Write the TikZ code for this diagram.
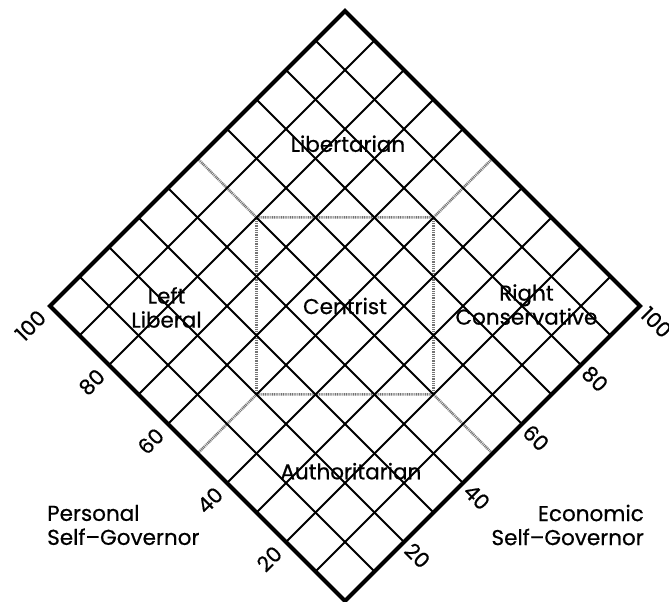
\documentclass[tikz,border=0pt]{standalone}
\usepackage{fontspec}
\setmainfont{Poppins}[FakeBold=0.6]
\usetikzlibrary{positioning}
\tikzstyle{region} = [align=center, inner sep=0pt, font=\fontsize{21.5}{24}\selectfont]
\tikzstyle{axisname} = [inner sep=0pt, font=\fontsize{21.5}{24}\selectfont]
\tikzstyle{tickleft} = [anchor=east, rotate=45, inner sep=0pt, font=\fontsize{21}{24}\selectfont]
\tikzstyle{tickright} = [anchor=west, rotate=-45, inner sep=0pt, font=\fontsize{21}{24}\selectfont]
\tikzstyle{gridline} = [line width=1.8pt]
\tikzstyle{border} = [line width=4pt, line join=miter]
\tikzstyle{zone} = [black!55, line width=2.5pt, dash pattern=on 1pt off 0.8pt]

\begin{document}
\begin{tikzpicture}[x={(-2.95pt,2.95pt)}, y={(2.95pt,2.95pt)}]
\useasboundingbox (-345pt,-1pt) rectangle (324pt,601pt);

\coordinate (ctl) at (80,50);
\coordinate (ctr) at (50,80);
\coordinate (cbr) at (20,50);
\coordinate (cbl) at (50,20);
\coordinate (etl) at (100,50);
\coordinate (etr) at (50,100);
\coordinate (ebr) at (0,50);
\coordinate (ebl) at (50,0);

\draw [zone] (etl) -- (ctl) -- (ctr) -- (etr);
\draw [zone] (ebl) -- (cbl) -- (cbr) -- (ebr);
\draw [zone] (ctl) -- (cbl);
\draw [zone] (ctr) -- (cbr);

\foreach \i in {10,20,30,40,60,70,80,90} {
  \draw [gridline] (\i,0) -- (\i,100);
  \draw [gridline] (0,\i) -- (100,\i);
}
\draw [gridline] (cbl) -- (ctr);
\draw [gridline] (cbr) -- (ctl);
\draw [border] (0,0) -- (100,0) -- (100,100) -- (0,100) -- cycle;

\node (libertarian) [region] at (77,78) {Libertarian};
\node (left) [region] at (80,19.5) {Left\\Liberal};
\node (centrist) [region] at (50,50) {Centrist};
\node (right) [region] at (19.5,81) {Right\\Conservative};
\node (authoritarian) [region] at (21,23) {Authoritarian};

\foreach \v in {20,40,60,80,100} {
  \node (p\v) [tickleft] at (\v,-2.6) {\v};
  \node (e\v) [tickright] at (-1.5,\v) {\v};
}

\node (personal) [axisname, anchor=west, align=left] at (-298pt,76pt) {Personal\\Self--Governor};
\node (economic) [axisname, anchor=east, align=right] at (299pt,76pt) {Economic\\Self--Governor};
\end{tikzpicture}
\end{document}
